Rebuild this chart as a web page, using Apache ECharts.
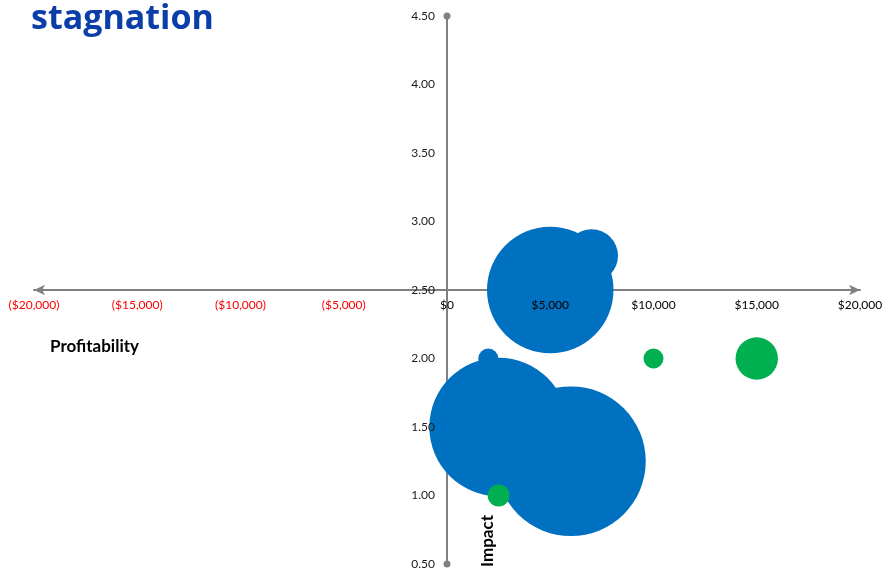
<!DOCTYPE html>
<html>
<head>
<meta charset="utf-8">
<script src="https://cdn.jsdelivr.net/npm/echarts@6/dist/echarts.min.js"></script>
<style>
  html, body { margin: 0; padding: 0; background: #ffffff; }
  #chart { width: 886px; height: 573px; }
</style>
</head>
<body>
<div id="chart"></div>
<script>
// Blue bubbles: profitability ($), impact score, bubble size
const blueX = [5000, 7000, 2000, 2500, 6000];
const blueY = [2.5, 2.75, 2.0, 1.5, 1.25];
const blueSize = [40, 7, 1, 48, 56];

// Green bubbles
const greenX = [2500, 10000, 15000];
const greenY = [1.0, 2.0, 2.0];
const greenSize = [1.2, 1, 4.5];

const titleText = 'stagnation';
const xAxisName = 'Profitability';
const yAxisName = 'Impact';

const FONT = 'Lato, "Open Sans", sans-serif';

// plot area in pixels; the two axes cross in the middle of it
const GRID = { left: 34, top: 16, width: 826, height: 548 };

const X_RANGE = { min: -20000, max: 20000, interval: 5000 };
const Y_RANGE = { min: 0.5, max: 4.5, interval: 0.5 };

function zip(xs, ys, ss) {
  return xs.map((x, i) => [x, ys[i], ss[i]]);
}

function money(v) {
  const s = '$' + Math.abs(v).toLocaleString('en-US');
  return v < 0 ? '(' + s + ')' : s;
}

const bubbleSize = d => 20 * Math.sqrt(d[2]);

// Each axis is built twice: the line sits under the bubbles,
// the tick labels are painted on top of them.
function xAxisPart(withLine) {
  return Object.assign({
    type: 'value',
    position: 'bottom',
    offset: -GRID.height / 2,   // profitability axis crosses at impact 2.50
    z: withLine ? 0 : 5,
    axisLine: {
      show: withLine,
      onZero: false,
      symbol: ['arrow', 'arrow'],
      symbolSize: [8, 11],
      lineStyle: { color: '#808080', width: 2 }
    },
    axisTick: { show: false },
    splitLine: { show: false },
    axisLabel: {
      show: !withLine,
      margin: 9,
      fontFamily: FONT,
      fontSize: 12,
      formatter: v => money(v),
      color: v => (Number(v) < 0 ? '#ff0000' : '#000000')
    }
  }, X_RANGE);
}

function yAxisPart(withLine) {
  return Object.assign({
    type: 'value',
    position: 'left',
    offset: -GRID.width / 2,    // impact axis crosses at $0
    z: withLine ? 0 : 5,
    axisLine: {
      show: withLine,
      onZero: false,
      symbol: ['circle', 'circle'],
      symbolSize: [7, 7],
      lineStyle: { color: '#808080', width: 2 }
    },
    axisTick: { show: false },
    splitLine: { show: false },
    axisLabel: {
      show: !withLine,
      margin: 12,
      fontFamily: FONT,
      fontSize: 12,
      color: '#1a1a1a',
      formatter: v => v.toFixed(2)
    }
  }, Y_RANGE);
}

const chart = echarts.init(document.getElementById('chart'), null, { renderer: 'canvas' });

chart.setOption({
  animation: false,
  backgroundColor: '#ffffff',
  grid: {
    left: GRID.left,
    top: GRID.top,
    width: GRID.width,
    height: GRID.height,
    containLabel: false,
    outerBoundsMode: 'none'
  },
  xAxis: [xAxisPart(true), xAxisPart(false)],
  yAxis: [yAxisPart(true), yAxisPart(false)],
  graphic: [
    {
      type: 'text',
      left: 31,
      top: 2,
      style: {
        text: titleText,
        fontFamily: '"Open Sans", sans-serif',
        fontWeight: 'bold',
        fontSize: 34,
        fill: '#0b3ea8'
      }
    },
    {
      type: 'text',
      left: 50,
      top: 338,
      style: {
        text: xAxisName,
        fontFamily: FONT,
        fontWeight: 'bold',
        fontSize: 17,
        fill: '#000000'
      }
    },
    {
      type: 'text',
      x: 479,
      y: 567,
      rotation: Math.PI / 2,
      style: {
        text: yAxisName,
        fontFamily: FONT,
        fontWeight: 'bold',
        fontSize: 17,
        fill: '#000000'
      }
    }
  ],
  series: [
    {
      name: 'Blue',
      type: 'scatter',
      xAxisIndex: 0,
      yAxisIndex: 0,
      symbolSize: bubbleSize,
      data: zip(blueX, blueY, blueSize),
      itemStyle: { color: '#0070c0', opacity: 1 },
      emphasis: { disabled: true }
    },
    {
      name: 'Green',
      type: 'scatter',
      xAxisIndex: 0,
      yAxisIndex: 0,
      symbolSize: bubbleSize,
      data: zip(greenX, greenY, greenSize),
      itemStyle: { color: '#00b050', opacity: 1 },
      emphasis: { disabled: true }
    }
  ]
});
</script>
</body>
</html>
